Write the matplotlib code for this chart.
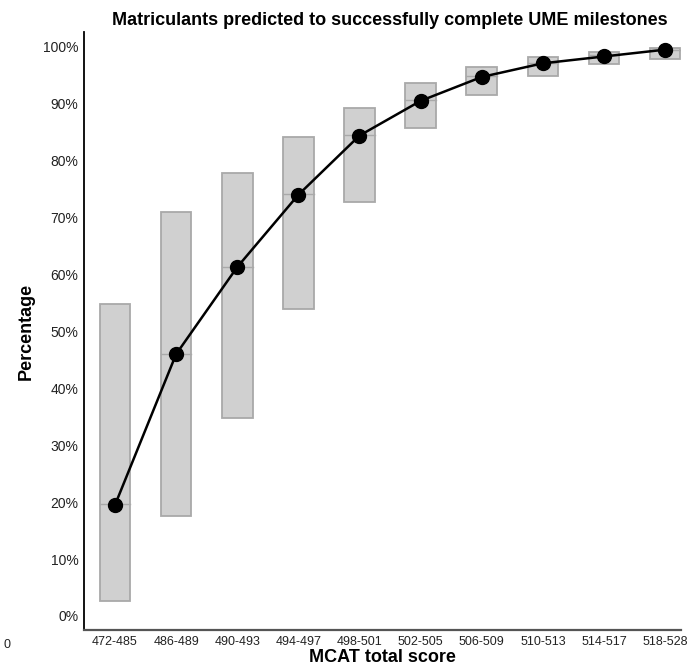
import matplotlib
matplotlib.use("Agg")
import matplotlib.pyplot as plt
from matplotlib.patches import Rectangle
from matplotlib.ticker import FuncFormatter

plt.rcParams['font.family'] = ['Liberation Sans', 'DejaVu Sans']

categories = ["472-485", "486-489", "490-493", "494-497", "498-501",
              "502-505", "506-509", "510-513", "514-517", "518-528"]
upper = [54.8, 70.9, 77.9, 84.2, 89.3, 93.7, 96.5, 98.2, 99.1, 99.8]
lower = [2.6, 17.6, 34.7, 54.0, 72.8, 85.8, 91.6, 94.9, 97.0, 97.9]
median = [19.7, 46.1, 61.4, 74.2, 84.5, 90.6, 94.8, 97.2, 98.5, 99.4]
predicted = [19.5, 46.0, 61.3, 74.0, 84.4, 90.5, 94.7, 97.1, 98.3, 99.5]

fig = plt.figure(figsize=(6.87, 6.71), dpi=100)
ax = fig.add_axes([84/687, 41/671, (681-84)/687, (630-32)/671])

w = 0.5
xs = list(range(len(categories)))
for x, lo, hi, md in zip(xs, lower, upper, median):
    ax.add_patch(Rectangle((x - w/2, lo), w, hi - lo, facecolor="#d0d0d0",
                           edgecolor="#a9a9a9", linewidth=1.3, zorder=2))
    ax.plot([x - w/2, x + w/2], [md, md], color="#a9a9a9", linewidth=1.0, zorder=2)

ax.plot(xs, predicted, color="black", linewidth=1.8, marker="o",
        markersize=10, zorder=3)

ax.set_xlim(-0.507, 9.26)
ax.set_ylim(-2.46, 102.6)
ax.set_yticks(range(0, 101, 10))
ax.yaxis.set_major_formatter(FuncFormatter(lambda v, p: f"{int(v)}%"))
ax.set_xticks(xs)
ax.set_xticklabels(categories)
ax.tick_params(axis="x", length=0, labelsize=9, colors="#222222", pad=4)
ax.tick_params(axis="y", length=0, labelsize=10, colors="#222222", pad=4)

for s in ["top", "right"]:
    ax.spines[s].set_visible(False)
ax.spines["left"].set_color("black")
ax.spines["left"].set_linewidth(1.3)
ax.spines["bottom"].set_color("#555555")
ax.spines["bottom"].set_linewidth(1.6)

ax.set_title("Matriculants predicted to successfully complete UME milestones",
             fontsize=13, fontweight="bold", pad=5, x=0.513)
ax.set_xlabel("MCAT total score", fontsize=13, fontweight="bold", labelpad=1)
ax.set_ylabel("Percentage", fontsize=13, fontweight="bold", labelpad=6)

fig.text(3/687, 1 - 645/671, "0", fontsize=9, color="#222222", va="center", ha="left")

fig.savefig("out.png", dpi=100)
